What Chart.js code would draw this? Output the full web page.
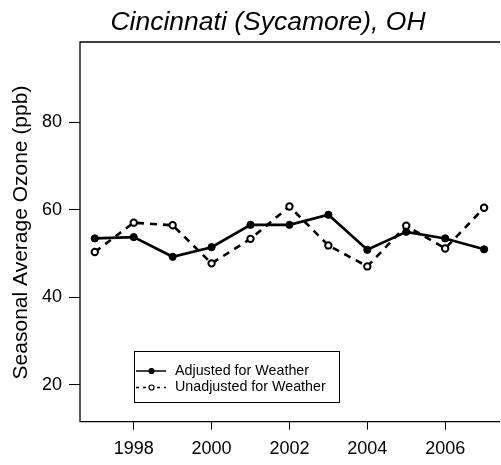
<!DOCTYPE html>
<html>
<head>
<meta charset="utf-8">
<script src="https://cdn.jsdelivr.net/npm/chart.js@4"></script>
<style>
  body { margin: 0; background: #fff; }
  #wrap { width: 501px; height: 465px; }
</style>
</head>
<body>
<div id="wrap"><canvas id="ozone" width="501" height="465"></canvas></div>
<script>
// valores
const years = [1997, 1998, 1999, 2000, 2001, 2002, 2003, 2004, 2005, 2006, 2007];
const adjusted = [53.5, 53.8, 49.3, 51.5, 56.6, 56.6, 58.9, 50.9, 55.0, 53.5, 51.0];
const unadjusted = [50.4, 57.1, 56.5, 47.8, 53.4, 60.8, 51.9, 47.1, 56.4, 51.2, 60.5];
const xTicks = [1998, 2000, 2002, 2004, 2006];
const yTicks = [20, 40, 60, 80];
const titleText = 'Cincinnati (Sycamore), OH';
const yLabel = 'Seasonal Average Ozone (ppb)';
const seriesNames = ['Adjusted for Weather', 'Unadjusted for Weather'];

const FONT = 'Liberation Sans, Arial, sans-serif';

// moldura, título, rótulo do eixo y e legenda
const extras = {
  id: 'extras',
  afterDraw(chart) {
    const ctx = chart.ctx;
    const a = chart.chartArea;
    ctx.save();
    ctx.strokeStyle = '#000';
    ctx.lineWidth = 1.3;
    ctx.beginPath();
    ctx.moveTo(a.right + 5, a.top);
    ctx.lineTo(a.left, a.top);
    ctx.lineTo(a.left, a.bottom);
    ctx.lineTo(a.right + 5, a.bottom);
    ctx.stroke();

    ctx.fillStyle = '#000';
    ctx.font = 'italic 26.5px ' + FONT;
    ctx.textAlign = 'center';
    ctx.textBaseline = 'alphabetic';
    ctx.fillText(titleText, 268, 30);

    ctx.save();
    ctx.translate(21, 232.5);
    ctx.rotate(-Math.PI / 2);
    ctx.font = '21px ' + FONT;
    ctx.textBaseline = 'middle';
    ctx.fillText(yLabel, 0, 0);
    ctx.restore();

    // legenda
    const lx = 134, ly = 351, lw = 205, lh = 51;
    ctx.lineWidth = 1;
    ctx.strokeRect(lx + 0.5, ly + 0.5, lw, lh);
    ctx.font = '14.3px ' + FONT;
    ctx.textAlign = 'left';
    ctx.textBaseline = 'middle';
    const rows = [371, 387.5];
    rows.forEach((ry, i) => {
      ctx.beginPath();
      ctx.lineWidth = 1.5;
      ctx.setLineDash(i === 0 ? [] : [3, 4]);
      ctx.moveTo(136, ry);
      ctx.lineTo(166, ry);
      ctx.stroke();
      ctx.setLineDash([]);
      ctx.beginPath();
      ctx.arc(151.5, ry, 2.5, 0, Math.PI * 2);
      ctx.fillStyle = i === 0 ? '#000' : '#fff';
      ctx.fill();
      ctx.lineWidth = 1.2;
      ctx.stroke();
      ctx.fillStyle = '#000';
      ctx.fillText(seriesNames[i], 175, ry);
    });
    ctx.restore();
  }
};

new Chart(document.getElementById('ozone'), {
  type: 'line',
  data: {
    datasets: [
      {
        label: seriesNames[0],
        data: years.map((y, i) => ({ x: y, y: adjusted[i] })),
        borderColor: '#000',
        borderWidth: 2.6,
        pointRadius: 3.6,
        pointBackgroundColor: '#000',
        pointBorderColor: '#000',
        pointBorderWidth: 1,
        tension: 0
      },
      {
        label: seriesNames[1],
        data: years.map((y, i) => ({ x: y, y: unadjusted[i] })),
        borderColor: '#000',
        borderWidth: 2.6,
        borderDash: [7, 6],
        pointRadius: 3.2,
        pointBackgroundColor: '#fff',
        pointBorderColor: '#000',
        pointBorderWidth: 2,
        tension: 0
      }
    ]
  },
  options: {
    responsive: false,
    animation: false,
    layout: { padding: { top: 42, right: 0, bottom: 0, left: 0 } },
    plugins: { legend: { display: false }, tooltip: { enabled: false }, title: { display: false } },
    scales: {
      x: {
        type: 'linear',
        min: 1996.62,
        max: 2007.28,
        afterBuildTicks: s => { s.ticks = xTicks.map(v => ({ value: v })); },
        afterFit: s => { s.height = 43.3; },
        border: { display: false },
        grid: { drawOnChartArea: false, tickLength: 8, color: '#000', tickWidth: 1 },
        ticks: { color: '#000', font: { family: FONT, size: 18 }, padding: 9, maxRotation: 0, callback: v => String(v) }
      },
      y: {
        min: 11.6,
        max: 98.4,
        afterBuildTicks: s => { s.ticks = yTicks.map(v => ({ value: v })); },
        afterFit: s => { s.width = 80; },
        border: { display: false },
        grid: { drawOnChartArea: false, tickLength: 11, color: '#000', tickWidth: 1 },
        ticks: { color: '#000', font: { family: FONT, size: 18 }, padding: 7 }
      }
    }
  },
  plugins: [extras]
});
</script>
</body>
</html>
